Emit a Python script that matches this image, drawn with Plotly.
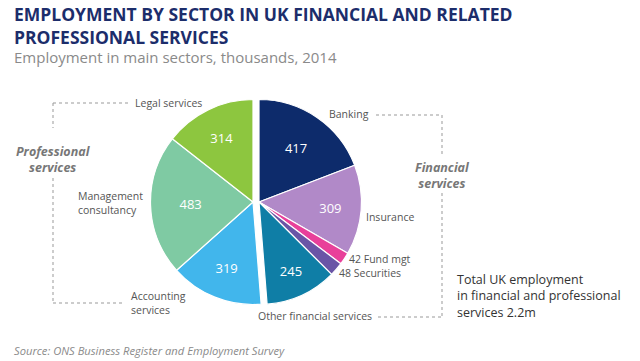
import plotly.graph_objects as go

# ---- data ----
fin_sectors = ["Banking", "Insurance", "Fund mgt", "Securities", "Other financial services"]
fin_values = [417, 309, 42, 48, 245]
prof_sectors = ["Accounting services", "Management consultancy", "Legal services"]
prof_values = [319, 483, 314]
title_lines = ["EMPLOYMENT BY SECTOR IN UK FINANCIAL AND RELATED", "PROFESSIONAL SERVICES"]
subtitle = "Employment in main sectors, thousands, 2014"
total_lines = ["Total UK employment", "in financial and professional", "services 2.2m"]
source = "Source: ONS Business Register and Employment Survey"

fin_colors = ["#0d2b6b", "#b189c8", "#e8409a", "#6a55a6", "#0f7ea6"]
prof_colors = ["#41b6ec", "#7fcaa3", "#8dc63f"]

W, H = 640, 361
R = 102.5
CY = 202
fin_cx, prof_cx = 259, 253


def X(x):
    return x / W


def Y(y):
    return 1 - y / H


def dom(cx):
    return dict(x=[X(cx - R), X(cx + R)], y=[Y(CY + R), Y(CY - R)])


fin_total = sum(fin_values)
prof_total = sum(prof_values)

fig = go.Figure()

# financial group (professional part transparent)
fig.add_trace(go.Pie(
    values=fin_values + [prof_total],
    labels=fin_sectors + ["_prof"],
    text=[str(v) for v in fin_values] + [""],
    textinfo="text",
    textposition=["inside" if v > 100 else "none" for v in fin_values] + ["none"],
    insidetextorientation="horizontal",
    insidetextfont=dict(color="white", size=13, family="Open Sans"),
    marker=dict(colors=fin_colors + ["rgba(0,0,0,0)"],
                line=dict(color="white", width=[1.2] * len(fin_values) + [0])),
    sort=False, direction="clockwise", rotation=0,
    domain=dom(fin_cx), showlegend=False, hoverinfo="label+value",
))

# professional group (financial part transparent)
fig.add_trace(go.Pie(
    values=[fin_total] + prof_values,
    labels=["_fin"] + prof_sectors,
    text=[""] + [str(v) for v in prof_values],
    textinfo="text",
    textposition=["none"] + ["inside"] * len(prof_values),
    insidetextorientation="horizontal",
    insidetextfont=dict(color="white", size=13, family="Open Sans"),
    marker=dict(colors=["rgba(0,0,0,0)"] + prof_colors,
                line=dict(color="white", width=[0] + [1.2] * len(prof_values))),
    sort=False, direction="clockwise", rotation=0,
    domain=dom(prof_cx), showlegend=False, hoverinfo="label+value",
))

# ---- text ----
LBL = dict(family="Open Sans", size=10.5, color="#555555")
ann = []


def px(x, y, text, font, xanchor="left", yanchor="middle", align="left"):
    ann.append(dict(x=X(x), y=Y(y), xref="paper", yref="paper", text=text,
                    showarrow=False, font=font, xanchor=xanchor, yanchor=yanchor, align=align,
                    borderpad=0))


# sector labels
label_pos = {
    "Banking": (328, 114),
    "Insurance": (365, 217),
    "Fund mgt": (348, 259),
    "Securities": (338, 273),
    "Other financial services": (257, 316),
    "Accounting services": (130, 303),
    "Management consultancy": (77, 203),
    "Legal services": (134, 103),
}
for name, v in zip(fin_sectors, fin_values):
    x, y = label_pos[name]
    t = f"{v} {name}" if v < 100 else name
    px(x, y, t, LBL)
for name in prof_sectors:
    x, y = label_pos[name]
    t = name if name == "Legal services" else name.replace(" ", "<br>")
    px(x, y, t, LBL)

GRP = dict(family="Open Sans", size=12.5, color="#777777")
px(53, 159, "<b><i>Professional</i></b><br><b><i>services</i></b>", GRP, xanchor="center", align="center")
px(442, 175, "<b><i>Financial</i></b><br><b><i>services</i></b>", GRP, xanchor="center", align="center")

px(456, 295.5, "<br>".join(total_lines), dict(family="Open Sans", size=12.5, color="#333333"))

# title, subtitle, source
px(13, 25.5, "<br>".join(f"<b>{l}</b>" for l in title_lines),
   dict(family="Open Sans", size=17.5, color="#1c2d6b"))
px(13, 57, subtitle, dict(family="Open Sans", size=15, color="#8a8a8a"))
px(13, 350, f"<i>{source}</i>", dict(family="Open Sans", size=11.2, color="#8a8a8a"))

# dashed brackets
DASH = dict(color="#999999", width=1, dash="dot")
shapes = []


def seg(x0, y0, x1, y1):
    shapes.append(dict(type="line", xref="paper", yref="paper", x0=X(x0), y0=Y(y0),
                       x1=X(x1), y1=Y(y1), line=DASH))


seg(53, 103, 130, 103); seg(53, 103, 53, 128); seg(53, 178, 53, 303); seg(53, 303, 124, 303)
seg(376, 115, 442, 115); seg(442, 115, 442, 155); seg(442, 193, 442, 317); seg(378, 317, 442, 317)

fig.update_layout(
    annotations=ann, shapes=shapes,
    width=W, height=H,
    margin=dict(l=0, r=0, t=0, b=0),
    paper_bgcolor="white", plot_bgcolor="white",
)

fig.write_html("out.html", config={"displayModeBar": False},
               post_script="document.body.style.margin='0';document.body.style.overflow='hidden';")
